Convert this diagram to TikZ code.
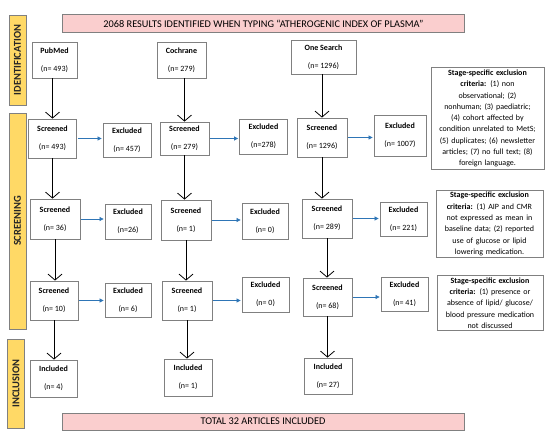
\documentclass[tikz,border=0pt]{standalone}
\usepackage{fontspec}
\setmainfont{Carlito}
\usetikzlibrary{arrows.meta}
\definecolor{stagegold}{RGB}{255,217,102}
\definecolor{bannerpink}{RGB}{250,206,206}
\definecolor{flowblue}{RGB}{46,117,182}
\definecolor{edgegray}{RGB}{128,128,128}
\tikzset{
  box/.style={draw=edgegray, line width=0.8pt, fill=white, align=center, minimum width=48pt, minimum height=37pt, inner sep=1pt, font=\fontsize{8}{9.6}\selectfont},
  crit/.style={draw=edgegray, line width=0.8pt, fill=white, align=center, text width=#1, inner sep=2pt, font=\fontsize{8}{11.3}\selectfont},
  banner/.style={draw=edgegray, line width=0.8pt, fill=bannerpink, minimum width=402pt, minimum height=18pt, inner sep=0pt, font=\fontsize{10.3}{12}\selectfont},
  stage/.style={draw=edgegray, line width=0.6pt, fill=stagegold, rotate=90, minimum height=17pt, inner sep=0pt, text=black!85, font=\fontsize{10.5}{12}\selectfont\bfseries},
  down/.style={-{Straight Barb[length=6pt,width=14pt]}, line width=0.8pt},
  side/.style={-{Triangle[length=4pt,width=4pt]}, draw=flowblue, line width=0.7pt, shorten <=1pt, shorten >=1pt}
}
\newcommand{\twoline}[2]{\textbf{#1}\\[8.5pt]#2}

\begin{document}
\begin{tikzpicture}[x=1pt,y=-1pt]
  \useasboundingbox (0,0) rectangle (550,439);
  % banners and stage bars
  \node[banner] (top) at (263.5,23.5) {2068 RESULTS IDENTIFIED WHEN TYPING “ATHEROGENIC INDEX OF PLASMA”};
  \node[banner, minimum height=17pt] (total) at (263,421.5) {TOTAL 32 ARTICLES INCLUDED};
  \node[stage, minimum width=90pt] (idn) at (17.5,60) {IDENTIFICATION};
  \node[stage, minimum width=216pt] (scr) at (17.5,221) {SCREENING};
  \node[stage, minimum width=89pt] (inc) at (16,383.5) {INCLUSION};

  % sources
  \node[box, minimum width=45pt, minimum height=36pt] (p0) at (54.5,60) {\twoline{PubMed}{(n= 493)}};
  \node[box, minimum width=49pt, minimum height=36pt] (c0) at (181.5,60) {\twoline{Cochrane}{(n= 279)}};
  \node[box, minimum width=65pt, minimum height=34pt] (o0) at (323.5,57) {\twoline{One Search}{(n= 1296)}};

  % first screening
  \node[box, minimum height=39pt] (s11) at (52.5,138.5) {\twoline{Screened}{(n= 493)}};
  \node[box, minimum height=34pt] (e11) at (127,140) {\twoline{Excluded}{(n= 457)}};
  \node[box, minimum width=49pt, minimum height=33pt] (s12) at (184.5,138.5) {\twoline{Screened}{(n= 279)}};
  \node[box, minimum height=35pt] (e12) at (263.5,136.5) {\twoline{Excluded}{(n=278)}};
  \node[box, minimum width=50pt, minimum height=39pt] (s13) at (322,137.5) {\twoline{Screened}{(n= 1296)}};
  \node[box, minimum width=52pt, minimum height=41pt] (e13) at (400,135.5) {\twoline{Excluded}{(n= 1007)}};
  \node[crit=109pt] (k1) at (487.5,118.5) {\textbf{Stage-specific exclusion}\\\textbf{criteria:} (1) non\\observational; (2)\\nonhuman; (3) paediatric;\\(4) cohort affected by\\condition unrelated to MetS;\\(5) duplicates; (6) newsletter\\articles; (7) no full text; (8)\\foreign language.};

  % second screening
  \node[box, minimum width=50pt, minimum height=40pt] (s21) at (55,219) {\twoline{Screened}{(n= 36)}};
  \node[box, minimum width=46pt, minimum height=35pt] (e21) at (128,221.5) {\twoline{Excluded}{(n=26)}};
  \node[box, minimum width=50pt, minimum height=40pt] (s22) at (186,220) {\twoline{Screened}{(n= 1)}};
  \node[box, minimum width=46pt, minimum height=36pt] (e22) at (265,221) {\twoline{Excluded}{(n= 0)}};
  \node[box, minimum width=50pt, minimum height=39pt] (s23) at (327,218.5) {\twoline{Screened}{(n= 289)}};
  \node[box, minimum width=47pt, minimum height=34pt] (e23) at (403.5,219) {\twoline{Excluded}{(n= 221)}};
  \node[crit=103pt] (k2) at (489.5,224) {\textbf{Stage-specific exclusion}\\\textbf{criteria:} (1) AIP and CMR\\not expressed as mean in\\baseline data; (2) reported\\use of glucose or lipid\\lowering medication.};

  % third screening
  \node[box, minimum height=39pt] (s31) at (54,300.5) {\twoline{Screened}{(n= 10)}};
  \node[box, minimum width=46pt, minimum height=34pt] (e31) at (128,300) {\twoline{Excluded}{(n= 6)}};
  \node[box, minimum width=50pt, minimum height=39pt] (s32) at (187,300.5) {\twoline{Screened}{(n= 1)}};
  \node[box, minimum width=47pt, minimum height=35pt] (e32) at (265.5,294.5) {\twoline{Excluded}{(n= 0)}};
  \node[box, minimum width=49pt, minimum height=38pt] (s33) at (327.5,297) {\twoline{Screened}{(n= 68)}};
  \node[box, minimum width=47pt, minimum height=34pt] (e33) at (404.5,294) {\twoline{Excluded}{(n= 41)}};
  \node[crit=102pt] (k3) at (490,303) {\textbf{Stage-specific exclusion}\\\textbf{criteria:} (1) presence or\\absence of lipid/ glucose/\\blood pressure medication\\not discussed};

  % included
  \node[box, minimum width=47pt] (i1) at (53.5,378.5) {\twoline{Included}{(n= 4)}};
  \node[box] (i2) at (188,377.5) {\twoline{Included}{(n= 1)}};
  \node[box, minimum height=36pt] (i3) at (328,376) {\twoline{Included}{(n= 27)}};

  % downward flow
  \draw[down] (s11.north |- p0.south) -- (s11.north);
  \draw[down] (s12.north |- c0.south) -- (s12.north);
  \draw[down] (s13.north |- o0.south) -- (s13.north);
  \draw[down] (s11.south) -- (s11.south |- s21.north);
  \draw[down] (s12.south) -- (s12.south |- s22.north);
  \draw[down] (s13.south) -- (s13.south |- s23.north);
  \draw[down] (s21.south) -- (s21.south |- s31.north);
  \draw[down] (s22.south) -- (s22.south |- s32.north);
  \draw[down] (s23.south) -- (s23.south |- s33.north);
  \draw[down] (s31.south) -- (s31.south |- i1.north);
  \draw[down] (s32.south) -- (s32.south |- i2.north);
  \draw[down] (s33.south) -- (s33.south |- i3.north);

  % exclusions
  \draw[side] (s11.east) -- (s11.east -| e11.west);
  \draw[side] (s12.east) -- (s12.east -| e12.west);
  \draw[side] (s13.east) -- (s13.east -| e13.west);
  \draw[side] (s21.east) -- (s21.east -| e21.west);
  \draw[side] (s22.east) -- (s22.east -| e22.west);
  \draw[side] (s23.east) -- (s23.east -| e23.west);
  \draw[side] (s31.east) -- (s31.east -| e31.west);
  \draw[side] (s32.east) -- (s32.east -| e32.west);
  \draw[side] (s33.east) -- (s33.east -| e33.west);
\end{tikzpicture}
\end{document}
